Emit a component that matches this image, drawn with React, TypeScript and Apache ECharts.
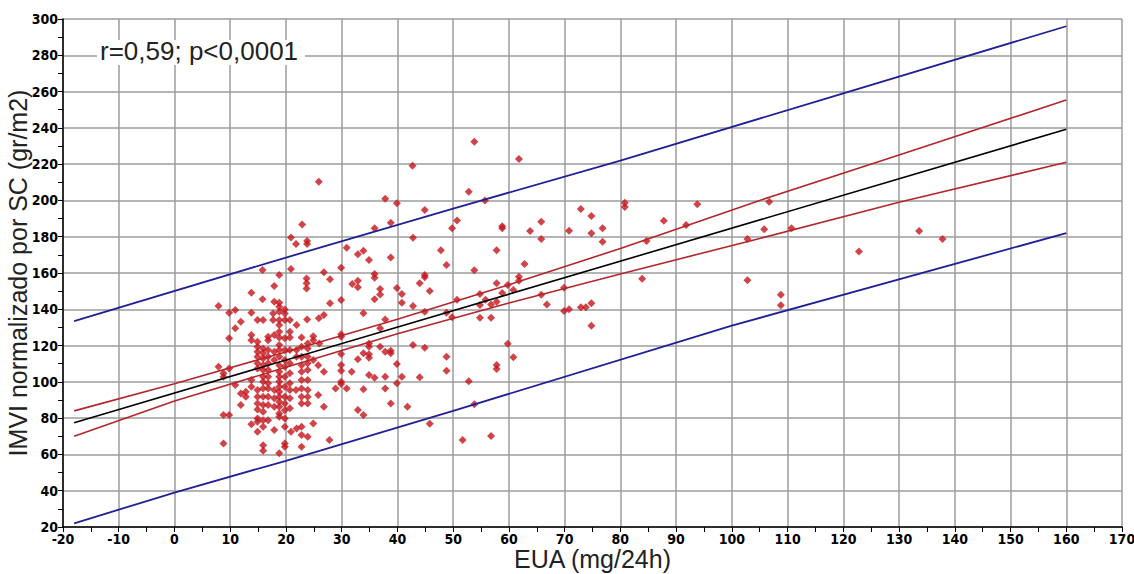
import React, { useEffect, useRef } from "react";
import * as echarts from "echarts";

// Axis ranges
const X_MIN = -20;
const X_MAX = 170;
const X_STEP = 10;
const Y_MIN = 20;
const Y_MAX = 300;
const Y_STEP = 20;

const X_NAME = "EUA (mg/24h)";
const Y_NAME = "IMVI normalizado por SC (gr/m2)";
const STATS_TEXT = "r=0,59; p<0,0001";

// Individual patients: [EUA, IMVI]
const cases: [number, number][] = [
  // high EUA
  [72.9, 195.3], [74.8, 191.4], [70.8, 183.3], [74.8, 181.9], [76.8, 184.6], [76.8, 177.2],
  [80.8, 198.7], [80.8, 196.4], [84.7, 177.6], [87.8, 188.8], [91.8, 186.4], [93.8, 197.9],
  [106.7, 199.3], [105.8, 184.1], [110.7, 184.6], [102.8, 178.7], [122.8, 171.8], [133.6, 183.1],
  [137.8, 178.7], [83.9, 156.8], [102.8, 156.0], [108.8, 148.0], [108.8, 142.2], [69.9, 151.9],
  [69.9, 139.0], [70.8, 140.0], [72.9, 141.1], [73.8, 141.1], [74.8, 143.3], [74.8, 130.9],
  // 44 - 67
  [53.8, 232.4], [61.8, 222.8], [52.8, 204.8], [55.7, 200.0], [44.9, 194.7], [50.7, 189.0],
  [49.8, 184.6], [58.8, 185.7], [58.8, 184.6], [63.8, 183.1], [65.8, 188.3], [65.8, 178.7],
  [47.8, 172.5], [57.8, 172.5], [48.8, 164.4], [62.8, 164.9], [53.8, 161.5], [44.9, 158.9],
  [44.9, 157.6], [44.0, 154.3], [45.8, 150.1], [57.8, 154.3], [61.8, 157.9], [61.8, 155.7],
  [59.8, 153.4], [60.8, 150.6], [58.8, 149.0], [54.8, 148.4], [57.8, 144.2], [56.8, 142.7],
  [54.8, 142.3], [55.8, 145.3], [50.7, 145.3], [44.9, 138.6], [48.8, 138.1], [49.8, 135.6],
  [54.8, 135.4], [56.8, 135.4], [65.8, 148.0], [66.8, 142.7], [44.9, 118.8], [48.8, 113.8],
  [48.8, 106.1], [44.0, 102.5], [59.8, 121.0], [60.8, 113.5], [57.8, 109.3], [57.8, 107.1],
  [52.8, 100.3], [53.8, 87.6], [45.8, 76.9], [51.7, 67.9], [56.8, 70.1],
  // 22 - 43
  [39.9, 198.4], [22.9, 186.8], [23.8, 177.6], [23.8, 176.0], [35.9, 184.6], [38.8, 187.7],
  [42.8, 179.4], [30.9, 173.9], [32.9, 170.3], [33.9, 172.3], [34.9, 167.1], [38.8, 168.6],
  [29.9, 162.9], [26.8, 160.4], [27.9, 156.5], [31.9, 153.9], [32.9, 155.7], [32.9, 152.1],
  [35.9, 159.4], [35.9, 157.4], [36.9, 151.2], [35.9, 145.5], [36.9, 148.2], [39.9, 151.7],
  [40.8, 148.4], [40.8, 143.6], [27.9, 143.3], [29.9, 145.1], [42.8, 141.8], [33.9, 137.8],
  [23.8, 134.4], [25.9, 135.0], [26.8, 136.8], [37.8, 134.4], [36.9, 129.5], [29.9, 126.2],
  [29.9, 124.9], [34.9, 121.2], [34.9, 119.4], [36.9, 119.4], [42.8, 120.3], [29.9, 115.3],
  [29.9, 109.3], [29.9, 106.1], [29.9, 100.0], [29.9, 98.8], [33.9, 115.7], [34.9, 115.2],
  [34.9, 113.3], [37.8, 116.6], [38.8, 117.1], [38.8, 115.7], [32.9, 112.4], [39.9, 109.8],
  [31.8, 105.6], [34.9, 103.8], [35.9, 102.3], [37.8, 102.8], [40.8, 102.8], [39.9, 99.2],
  [28.9, 96.4], [30.9, 96.4], [33.9, 95.9], [37.8, 96.4], [38.8, 88.1], [41.8, 86.3],
  [32.9, 84.5], [33.9, 81.7], [25.9, 210.3], [42.7, 219.1], [37.8, 200.9], [20.9, 179.6],
  [21.8, 176.0],
  // dense cluster 7 - 28
  [20.9, 162.2], [18.8, 158.9], [23.7, 157.0], [23.7, 154.3], [23.7, 151.5], [15.8, 161.6],
  [17.9, 152.8], [13.8, 149.1], [15.8, 145.5], [17.9, 144.2], [18.8, 143.6], [18.8, 141.4],
  [18.8, 138.7], [19.8, 139.9], [19.8, 137.7], [7.9, 141.8], [9.8, 138.1], [10.9, 139.6],
  [13.8, 138.1], [14.9, 134.1], [15.9, 134.1], [17.7, 137.7], [17.7, 134.1], [18.8, 134.1],
  [18.8, 131.3], [20.7, 134.1], [20.7, 127.6], [19.8, 134.1], [19.8, 124.0], [21.9, 131.3],
  [10.9, 129.5], [11.9, 133.1], [9.8, 124.0], [13.8, 125.8], [13.8, 123.0], [14.9, 122.1],
  [16.8, 124.9], [16.8, 123.0], [17.9, 125.8], [18.8, 127.6], [18.8, 124.5], [20.7, 124.5],
  [22.8, 124.5], [24.9, 125.2], [24.9, 123.0], [23.9, 121.2], [23.9, 118.4], [26.0, 121.2],
  [14.9, 119.4], [14.9, 116.6], [14.9, 113.8], [14.9, 110.2], [14.9, 107.4],
  [15.9, 118.4], [15.9, 115.7], [15.9, 112.9], [15.9, 109.2], [15.9, 106.5], [15.9, 102.8], [15.9, 100.0],
  [16.8, 117.5], [16.8, 113.8], [16.8, 110.2], [16.8, 106.5], [16.8, 102.8], [16.8, 99.2], [16.8, 96.4],
  [17.9, 116.6], [17.9, 112.0],
  [18.8, 120.3], [18.8, 117.5], [18.8, 113.8], [18.8, 109.2], [18.8, 105.6], [18.8, 102.8],
  [18.8, 100.0], [18.8, 97.3], [18.8, 94.5], [18.8, 91.8], [18.8, 89.0],
  [19.8, 117.5], [19.8, 112.0], [19.8, 108.3], [19.8, 102.8], [19.8, 97.3], [19.8, 91.8],
  [19.8, 88.1], [19.8, 84.4],
  [20.7, 117.5], [20.7, 110.2], [20.7, 104.7], [21.9, 117.5], [21.9, 113.8],
  [22.8, 119.4], [22.8, 113.8], [22.8, 109.2], [22.8, 105.6], [22.8, 101.0], [22.8, 96.4],
  [22.8, 91.8], [22.8, 88.1],
  [23.9, 113.8], [23.9, 110.2], [23.9, 106.5], [23.9, 101.0], [23.9, 95.5], [23.9, 91.8], [23.9, 88.1],
  [24.9, 112.0], [25.8, 109.2], [26.8, 105.6],
  [9.8, 107.4], [8.8, 104.7], [8.8, 102.8], [7.9, 108.3], [10.9, 98.2], [11.9, 93.6], [11.9, 87.2],
  [12.8, 94.5], [12.8, 91.8], [13.8, 101.0], [13.8, 97.3],
  [14.9, 95.5], [14.9, 91.8], [14.9, 88.1], [14.9, 84.8],
  [15.9, 96.4], [15.9, 91.8], [15.9, 87.2], [15.9, 83.5],
  [16.8, 91.8], [16.8, 87.2], [17.9, 95.5], [17.9, 90.9], [17.9, 86.3], [18.8, 86.3], [18.8, 82.6],
  [20.7, 99.2], [20.7, 95.5], [20.7, 90.9], [20.7, 85.4], [21.8, 95.5], [25.8, 92.7], [26.8, 86.3],
  [8.8, 81.7], [9.8, 81.7], [13.8, 76.7], [14.9, 79.8], [14.9, 78.0], [14.9, 72.5], [15.9, 78.9],
  [15.9, 75.3], [16.8, 78.9], [17.9, 73.4], [18.8, 80.8], [19.8, 79.8], [19.8, 75.3], [20.9, 72.5],
  [21.9, 74.3], [22.8, 75.3], [22.8, 70.7], [23.9, 69.7], [24.9, 77.1], [27.8, 67.9], [8.8, 66.0],
  [15.9, 65.1], [19.8, 66.0], [19.8, 64.2], [22.8, 64.2], [15.9, 62.0], [18.8, 60.6],
];

// Regression line and its bands
const regressionLine: [number, number][] = [[-18, 77.5], [160, 239.2]];
const confidenceUpper: [number, number][] = [
  [-18, 84], [0, 99], [20, 116.5], [40, 134.5], [60, 153.5], [80, 173.5], [105, 200], [130, 225], [160, 255.3],
];
const confidenceLower: [number, number][] = [
  [-18, 70], [0, 89.5], [20, 108], [40, 126.5], [60, 143.5], [80, 159.5], [105, 179], [130, 199], [160, 221],
];
const predictionUpper: [number, number][] = [
  [-18, 133.5], [20, 168.5], [50, 195.5], [80, 222], [120, 259], [160, 296],
];
const predictionLower: [number, number][] = [
  [-18, 22], [0, 39], [20, 56.5], [50, 84], [100, 131], [160, 182],
];

const TICK_FONT = "'Liberation Sans Narrow', 'DejaVu Sans Condensed', 'Liberation Sans', sans-serif";
const TITLE_FONT = "'Liberation Sans', Arial, sans-serif";

const BLUE = "#1f1f96";
const RED = "#b3262b";
const POINT = "#c4141a";

function axisCommon() {
  return {
    type: "value" as const,
    nameLocation: "middle" as const,
    nameMoveOverlap: false,
    nameTextStyle: { fontFamily: TITLE_FONT, fontSize: 25, color: "#222" },
    axisLine: { show: true, onZero: false, lineStyle: { color: "#000", width: 1.5 } },
    axisTick: { show: true, inside: false, length: 5, lineStyle: { color: "#000", width: 1 } },
    minorTick: { show: true, splitNumber: 2, length: 5, lineStyle: { color: "#000", width: 1 } },
    axisLabel: {
      color: "#000",
      fontFamily: TICK_FONT,
      fontWeight: "bold" as const,
      fontSize: 14,
      margin: 5,
    },
    splitLine: { show: true, lineStyle: { color: "#9c9c9c", width: 1.5 } },
    minorSplitLine: { show: false },
  };
}

function lineSeries(data: [number, number][], color: string, width: number) {
  return {
    type: "line" as const,
    data,
    symbol: "none",
    showSymbol: false,
    smooth: false,
    silent: true,
    z: 3,
    lineStyle: { color, width },
  };
}

export default function App() {
  const ref = useRef<HTMLDivElement>(null);

  useEffect(() => {
    if (!ref.current) return;
    const chart = echarts.init(ref.current, null, { renderer: "svg" });
    chart.setOption({
      animation: false,
      backgroundColor: "#fff",
      grid: {
        left: 63,
        right: 12,
        top: 19,
        bottom: 47,
        containLabel: false,
        outerBoundsMode: "none",
      },
      xAxis: {
        ...axisCommon(),
        min: X_MIN,
        max: X_MAX,
        interval: X_STEP,
        name: X_NAME,
        nameGap: 19,
      },
      yAxis: {
        ...axisCommon(),
        min: Y_MIN,
        max: Y_MAX,
        interval: Y_STEP,
        name: Y_NAME,
        nameGap: 33,
      },
      series: [
        {
          type: "scatter",
          data: cases,
          symbol: "diamond",
          symbolSize: 8,
          itemStyle: { color: POINT },
          z: 2,
        },
        lineSeries(predictionUpper, BLUE, 1.8),
        lineSeries(predictionLower, BLUE, 1.8),
        lineSeries(confidenceUpper, RED, 1.6),
        lineSeries(confidenceLower, RED, 1.6),
        lineSeries(regressionLine, "#000", 1.6),
      ],
      graphic: [
        {
          type: "rect",
          z: 100,
          shape: { x: 97, y: 40, width: 208, height: 25 },
          style: { fill: "#fff" },
        },
        {
          type: "text",
          z: 101,
          x: 100,
          y: 38,
          style: {
            text: STATS_TEXT,
            fontFamily: TITLE_FONT,
            fontSize: 26,
            fill: "#222",
            textVerticalAlign: "top",
          },
        },
      ],
    });
    return () => chart.dispose();
  }, []);

  return (
    <div
      ref={ref}
      style={{ position: "absolute", left: 0, top: 0, width: 1134, height: 574, background: "#fff" }}
    />
  );
}
